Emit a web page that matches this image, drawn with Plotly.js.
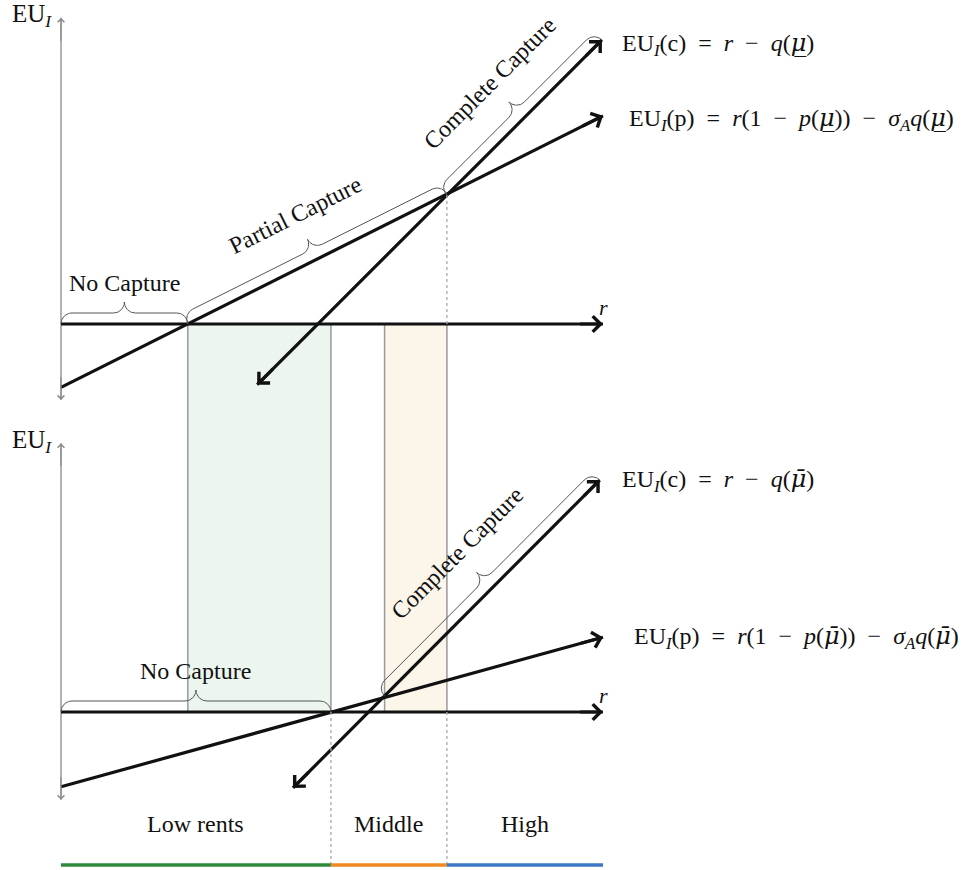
<!DOCTYPE html>
<html><head><meta charset="utf-8">
<script src="https://cdn.plot.ly/plotly-3.0.1.min.js"></script>
<style>html,body{margin:0;padding:0;background:#fff}</style>
</head><body><div id="chart" style="width:974px;height:870px"></div>
<script>
// ---------------- data (diagram units: r along x, EU along y) ----------------
const rAxisEnd = [0, 10];
const topEUAxis = [-1.40, 5.65];
const botEUAxis = [-1.62, 4.96];

// upper panel (mu underbar)
const topP_r = [0, 10];
const topP_EU = [-1.17, 3.84];
const topC_r = [3.62, 9.98];
const topC_EU = [-1.12, 5.24];

// lower panel (mu bar)
const botP_r = [0, 10];
const botP_EU = [-1.38, 1.38];
const botC_r = [4.28, 9.94];
const botC_EU = [-1.40, 4.28];

const regionNames = ["Low rents", "Middle", "High"];
const regionBounds = [0, 4.98, 7.12, 10];
const greenBand = [2.34, 4.98];
const orangeBand = [5.97, 7.12];

const topBraceText = ["No Capture", "Partial Capture", "Complete Capture"];
const topBraceLine = ["axis", "p", "c"];
const topBraceFrom = [0, 2.34, 7.12];
const topBraceTo = [2.34, 7.12, 9.98];

const botBraceText = ["No Capture", "Complete Capture"];
const botBraceLine = ["axis", "c"];
const botBraceFrom = [0, 5.97];
const botBraceTo = [4.98, 9.94];

const MU_LOW = "<span style=\"font-family:DejaVu Serif\"><i>\u03BC\u0332</i></span>";
const MU_BAR = "<span style=\"font-family:DejaVu Serif\"><i>\u03BC\u0304</i></span>";
const SP = "\u2002";
const topEqC = "EU<sub><i>I</i></sub>(c)" + SP + "=" + SP + "<i>r</i>" + SP + "\u2212" + SP + "<i>q</i>(" + MU_LOW + ")";
const topEqP = "EU<sub><i>I</i></sub>(p)" + SP + "=" + SP + "<i>r</i>(1" + SP + "\u2212" + SP + "<i>p</i>(" + MU_LOW + "))" + SP + "\u2212" + SP + "<i>\u03C3<sub>A</sub>q</i>(" + MU_LOW + ")";
const botEqC = "EU<sub><i>I</i></sub>(c)" + SP + "=" + SP + "<i>r</i>" + SP + "\u2212" + SP + "<i>q</i>(" + MU_BAR + ")";
const botEqP = "EU<sub><i>I</i></sub>(p)" + SP + "=" + SP + "<i>r</i>(1" + SP + "\u2212" + SP + "<i>p</i>(" + MU_BAR + "))" + SP + "\u2212" + SP + "<i>\u03C3<sub>A</sub>q</i>(" + MU_BAR + ")";

// ---------------- layout geometry / styles ----------------
const W = 974, H = 870, PX = 54.2, X0 = 61, TOP0 = 324, BOT0 = 712;
const xRange = [-X0 / PX, (W - X0) / PX];
const yRange = [-(H - TOP0) / PX, TOP0 / PX];
const y2Range = [-(H - BOT0) / PX, BOT0 / PX];
const topInY2 = y2Range[1] - yRange[1];
const FONT = "Liberation Serif, Times New Roman, serif";
const INK = "#111111";
const regionColors = ["#2e8b3e", "#ef8a22", "#3b78c4"];

function interp(rs, es, r) {
  return es[0] + (es[1] - es[0]) * (r - rs[0]) / (rs[1] - rs[0]);
}

function bracePts(p0, p1, A) {
  const dx = p1[0] - p0[0], dy = p1[1] - p0[1], L = Math.hypot(dx, dy);
  const ux = dx / L, uy = dy / L, nx = -uy, ny = ux, h = A / 2;
  const loc = [];
  const N = 14;
  for (let i = 0; i <= N; i++) { const t = i / N * Math.PI / 2; loc.push([h - h * Math.cos(t), h * Math.sin(t)]); }
  for (let i = 0; i <= N; i++) { const t = i / N * Math.PI / 2; loc.push([L / 2 - h + h * Math.sin(t), A - h * Math.cos(t)]); }
  const half = loc.slice();
  for (let i = half.length - 1; i >= 0; i--) loc.push([L - half[i][0], half[i][1]]);
  return {
    x: loc.map(p => p0[0] + ux * p[0] + nx * p[1]),
    y: loc.map(p => p0[1] + uy * p[0] + ny * p[1]),
    mid: [p0[0] + dx / 2, p0[1] + dy / 2], n: [nx, ny],
    ang: -Math.atan2(dy, dx) * 180 / Math.PI
  };
}

const traces = [];
const annotations = [];
const shapes = [];

function line(x, y, yaxis, color, width, dash) {
  traces.push({x: x, y: y, yaxis: yaxis, xaxis: 'x', mode: 'lines', hoverinfo: 'skip',
    line: {color: color, width: width, dash: dash || 'solid'}});
}
function arrowHead(yref, tip, from, width, size, color) {
  const dx = from[0] - tip[0], dy = from[1] - tip[1], L = Math.hypot(dx, dy), back = 0.45;
  annotations.push({x: tip[0], y: tip[1], ax: tip[0] + dx / L * back, ay: tip[1] + dy / L * back,
    xref: 'x', yref: yref, axref: 'x', ayref: yref, text: '', showarrow: true,
    arrowhead: 4, arrowsize: size, arrowwidth: width, arrowcolor: color, standoff: 0, startstandoff: 0});
}
function label(yref, x, y, text, size, opts) {
  annotations.push(Object.assign({x: x, y: y, xref: 'x', yref: yref, text: text, showarrow: false,
    font: {family: FONT, size: size, color: INK}, xanchor: 'center', yanchor: 'middle'}, opts || {}));
}

// shaded bands spanning both panels
[[greenBand, "rgba(224,240,229,0.6)"], [orangeBand, "rgba(250,236,214,0.5)"]].forEach(([b, col]) => {
  shapes.push({type: 'rect', xref: 'x', yref: 'y2', x0: b[0], x1: b[1], y0: 0, y1: topInY2,
    fillcolor: col, line: {color: '#999999', width: 1.5}, layer: 'below'});
});

function panel(yaxis, yref, euAxis, P_r, P_EU, C_r, C_EU, bText, bLine, bFrom, bTo, eqC, eqP, eqShift) {
  // EU axis
  line([0, 0], euAxis, yaxis, '#8a8a8a', 1.3);
  arrowHead(yref, [0, euAxis[1]], [0, euAxis[0]], 1.2, 1.1, '#8a8a8a');
  arrowHead(yref, [0, euAxis[0]], [0, euAxis[1]], 1.2, 1.1, '#8a8a8a');
  label(yref, 0, euAxis[1], "EU<sub><i>I</i></sub>", 25, {xanchor: 'right', xshift: -7, yshift: 2});
  // r axis
  line(rAxisEnd, [0, 0], yaxis, INK, 3.2);
  arrowHead(yref, [rAxisEnd[1], 0], [rAxisEnd[0], 0], 3.2, 0.95, INK);
  label(yref, rAxisEnd[1], 0, "<i>r</i>", 22, {yshift: 17});
  // p line
  line(P_r, P_EU, yaxis, INK, 3.2);
  arrowHead(yref, [P_r[1], P_EU[1]], [P_r[0], P_EU[0]], 3.2, 0.95, INK);
  // c line (two-headed)
  line(C_r, C_EU, yaxis, INK, 3.2);
  arrowHead(yref, [C_r[1], C_EU[1]], [C_r[0], C_EU[0]], 3.2, 0.95, INK);
  arrowHead(yref, [C_r[0], C_EU[0]], [C_r[1], C_EU[1]], 3.2, 0.95, INK);
  // equations
  label(yref, C_r[1], C_EU[1], eqC, 24, {xanchor: 'left', xshift: eqShift[0], yshift: eqShift[1]});
  label(yref, P_r[1], P_EU[1], eqP, 24, {xanchor: 'left', xshift: eqShift[2], yshift: eqShift[3]});
  // braces
  const A = 22 / PX;
  bText.forEach((t, i) => {
    const f = r => bLine[i] === 'axis' ? 0 : (bLine[i] === 'p' ? interp(P_r, P_EU, r) : interp(C_r, C_EU, r));
    const b = bracePts([bFrom[i], f(bFrom[i])], [bTo[i], f(bTo[i])], A);
    line(b.x, b.y, yaxis, '#555', 1);
    const gap = (Math.abs(b.ang) < 1 ? 19 : 27) / PX;
    label(yref, b.mid[0] + b.n[0] * (A + gap), b.mid[1] + b.n[1] * (A + gap), t, 24, {textangle: Math.abs(b.ang) < 1 ? 0 : b.ang});
  });
}

panel('y', 'y', topEUAxis, topP_r, topP_EU, topC_r, topC_EU, topBraceText, topBraceLine, topBraceFrom, topBraceTo, topEqC, topEqP, [18, -5, 24, -4]);
panel('y2', 'y2', botEUAxis, botP_r, botP_EU, botC_r, botC_EU, botBraceText, botBraceLine, botBraceFrom, botBraceTo, botEqC, botEqP, [20, 0, 29, 0]);

// dotted guides
const crossTop = interp(topP_r, topP_EU, regionBounds[2]);
line([regionBounds[2], regionBounds[2]], [0, crossTop], 'y', '#a8a8a8', 1.3, 'dot');
const barY = -(865 - BOT0) / PX, regLabelY = -(824 - BOT0) / PX;
[regionBounds[1], regionBounds[2]].forEach(r => line([r, r], [0, barY], 'y2', '#a8a8a8', 1.3, 'dot'));

// regions along the bottom
regionNames.forEach((nm, i) => {
  line([regionBounds[i], regionBounds[i + 1]], [barY, barY], 'y2', regionColors[i], 3.5);
  label('y2', (regionBounds[i] + regionBounds[i + 1]) / 2, regLabelY, nm, 24);
});

const layout = {
  width: W, height: H, autosize: false,
  margin: {l: 0, r: 0, t: 0, b: 0, pad: 0},
  paper_bgcolor: '#fff', plot_bgcolor: '#fff', showlegend: false,
  xaxis: {range: xRange, visible: false, fixedrange: true},
  yaxis: {range: yRange, visible: false, fixedrange: true},
  yaxis2: {range: y2Range, visible: false, overlaying: 'y', anchor: 'x', fixedrange: true},
  shapes: shapes, annotations: annotations
};
Plotly.newPlot('chart', traces, layout, {staticPlot: true, displayModeBar: false});
</script></body></html>
